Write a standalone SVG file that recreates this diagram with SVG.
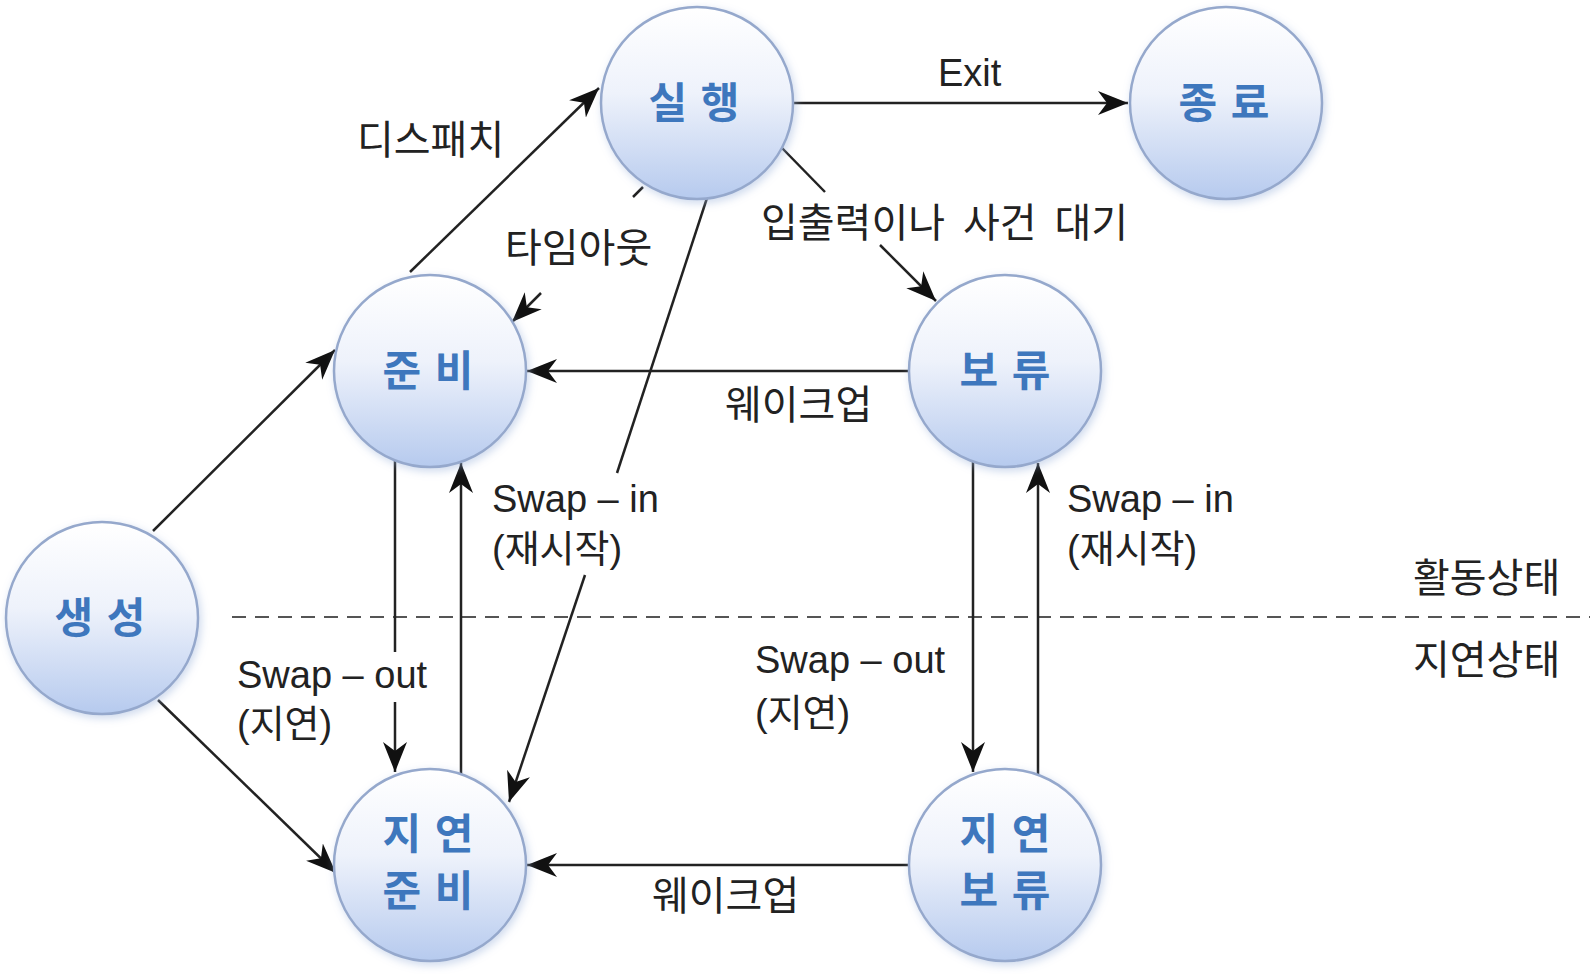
<svg xmlns="http://www.w3.org/2000/svg" width="1592" height="974" viewBox="0 0 1592 974">
<style>
.node circle{fill:url(#g);stroke:#95a8cc;stroke-width:2.5;filter:url(#sh)}
.nt{font-family:"Noto Sans CJK KR","Noto Sans",sans-serif;font-weight:bold;font-size:42px;fill:#3e77bd;text-anchor:middle;word-spacing:4px}
.lb{font-family:"Liberation Sans","Noto Sans CJK KR",sans-serif;font-size:38px;fill:#222}
.kr{font-family:"Noto Sans CJK KR",sans-serif;font-size:40px;fill:#222}
.c line{stroke:#222;stroke-width:2.5}
.a{marker-end:url(#ah)}
</style>
<defs>
<linearGradient id="g" x1="0" y1="0" x2="0" y2="1">
<stop offset="0" stop-color="#ffffff"/>
<stop offset="0.45" stop-color="#eef2fb"/>
<stop offset="1" stop-color="#b6caee"/>
</linearGradient>
<filter id="sh" x="-20%" y="-20%" width="140%" height="140%">
<feGaussianBlur in="SourceAlpha" stdDeviation="4"/>
<feOffset dx="2" dy="3" result="b"/>
<feFlood flood-color="#9db4dc" flood-opacity="0.5"/>
<feComposite in2="b" operator="in"/>
<feMerge><feMergeNode/><feMergeNode in="SourceGraphic"/></feMerge>
</filter>
<marker id="ah" markerUnits="userSpaceOnUse" markerWidth="32" markerHeight="26" viewBox="0 0 32 26" refX="30" refY="13" orient="auto">
<path d="M0,1 L30,13 L0,25 L9,13 z" fill="#111"/>
</marker>
</defs>
<rect width="1592" height="974" fill="#fff"/>
<line x1="232" y1="617" x2="1590" y2="617" stroke="#555" stroke-width="2" stroke-dasharray="14,9"/>
<g class="c" id="connectors">
<line class="a" x1="153" y1="531" x2="335" y2="350"/>
<line class="a" x1="158" y1="700" x2="336" y2="873"/>
<line class="a" x1="410" y1="272" x2="599" y2="88"/>
<line x1="643" y1="187" x2="633" y2="197"/>
<line class="a" x1="541" y1="293" x2="512" y2="322"/>
<line class="a" x1="791" y1="103" x2="1128" y2="103"/>
<line x1="782" y1="148" x2="825" y2="192"/>
<line class="a" x1="880" y1="245" x2="936" y2="301"/>
<line x1="707" y1="198" x2="617" y2="473"/>
<line class="a" x1="585" y1="575" x2="509" y2="802"/>
<line class="a" x1="909" y1="371" x2="527" y2="371"/>
<line class="a" x1="909" y1="865" x2="527" y2="865"/>
<line x1="395" y1="460" x2="395" y2="652"/>
<line class="a" x1="395" y1="702" x2="395" y2="772"/>
<line class="a" x1="461" y1="774" x2="461" y2="463"/>
<line class="a" x1="973" y1="461" x2="973" y2="772"/>
<line class="a" x1="1038" y1="774" x2="1038" y2="463"/>
</g>
<g class="node" id="run"><circle cx="697" cy="103" r="96"/><text class="nt" x="694" y="118">실 행</text></g>
<g class="node" id="exit"><circle cx="1226" cy="103" r="96"/><text class="nt" x="1224" y="118">종 료</text></g>
<g class="node" id="ready"><circle cx="430" cy="371" r="96"/><text class="nt" x="428" y="386">준 비</text></g>
<g class="node" id="block"><circle cx="1005" cy="371" r="96"/><text class="nt" x="1005" y="386">보 류</text></g>
<g class="node" id="create"><circle cx="102" cy="618" r="96"/><text class="nt" x="100" y="633">생 성</text></g>
<g class="node" id="sready"><circle cx="430" cy="865" r="96"/><text class="nt" x="428" y="849">지 연</text><text class="nt" x="428" y="906">준 비</text></g>
<g class="node" id="sblock"><circle cx="1005" cy="865" r="96"/><text class="nt" x="1005" y="849">지 연</text><text class="nt" x="1005" y="906">보 류</text></g>
<g id="labels">
<text class="kr" x="357" y="154">디스패치</text>
<text class="kr" x="505" y="262">타임아웃</text>
<text class="lb" x="938" y="86">Exit</text>
<text class="kr" x="761" y="237" word-spacing="9">입출력이나 사건 대기</text>
<text class="kr" x="725" y="419">웨이크업</text>
<text class="lb" x="492" y="512">Swap – in</text>
<text class="lb" x="492" y="562">(재시작)</text>
<text class="lb" x="1067" y="512">Swap – in</text>
<text class="lb" x="1067" y="562">(재시작)</text>
<text class="lb" x="237" y="688">Swap – out</text>
<text class="lb" x="237" y="737">(지연)</text>
<text class="lb" x="755" y="673">Swap – out</text>
<text class="lb" x="755" y="726">(지연)</text>
<text class="kr" x="652" y="910">웨이크업</text>
<text class="kr" x="1413" y="592">활동상태</text>
<text class="kr" x="1413" y="674">지연상태</text>
</g>
</svg>
